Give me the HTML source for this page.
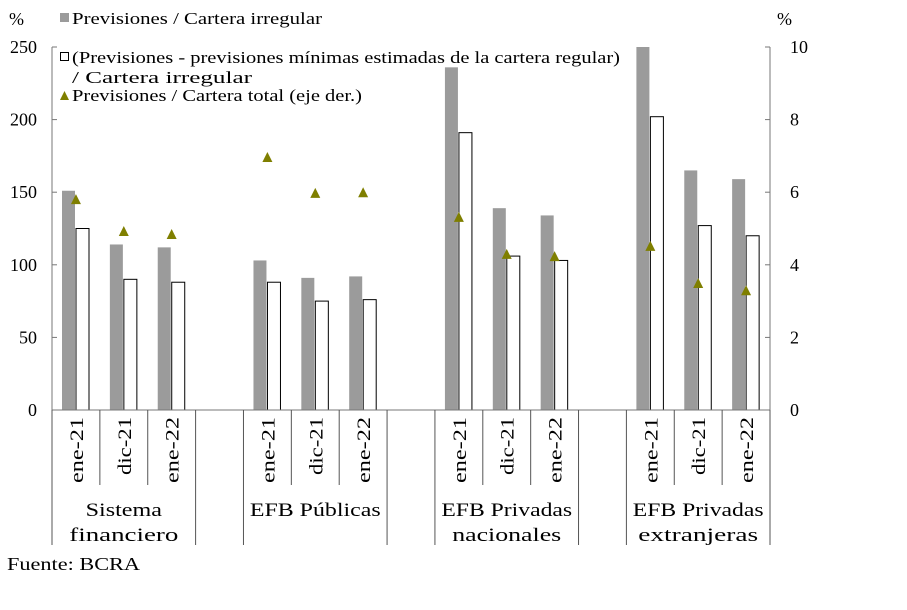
<!DOCTYPE html>
<html><head><meta charset="utf-8"><style>
body{margin:0;background:#fff;}
svg text{font-family:"Liberation Serif",serif;fill:#000;}
</style></head><body>
<svg id="c" width="907" height="605" xmlns="http://www.w3.org/2000/svg"></svg>
<script>
const groups=["Sistema|financiero","EFB Públicas","EFB Privadas|nacionales","EFB Privadas|extranjeras"];
const periods=["ene-21","dic-21","ene-22"];
const grayVals=[151,114,112,103,91,92,236,139,134,250,165,159];
const whiteVals=[125,90,88,88,75,76,191,106,103,202,127,120];
const triVals=[5.81,4.93,4.85,6.97,5.98,6.0,5.32,4.3,4.24,4.52,3.5,3.3];
const leftTicks=[0,50,100,150,200,250];
const rightTicks=[0,2,4,6,8,10];
const NS="http://www.w3.org/2000/svg";
const svg=document.getElementById('c');
const X0=52,X1=770,Y0=410,Y1=47,slot=(X1-X0)/15;
const yL=v=>Y0-(Math.min(v,250)/250)*(Y0-Y1);
const yR=v=>Y0-(v/10)*(Y0-Y1);
const slotX=i=>X0+(Math.floor(i/3)*4+(i%3))*slot;
function el(t,a,txt){const e=document.createElementNS(NS,t);for(const k in a)e.setAttribute(k,a[k]);if(txt!=null)e.textContent=txt;svg.appendChild(e);return e;}
grayVals.forEach((v,i)=>{const x=slotX(i)+10;
 const r=el('rect',{x:x,y:yL(v),width:13,height:Y0-yL(v),fill:'#9b9b9b'});
 
 });
whiteVals.forEach((v,i)=>{const x=slotX(i)+24;
 const r=el('rect',{x:x,y:yL(v),width:13,height:Y0-yL(v),fill:'#fff',stroke:'#000','stroke-width':1});
 
 });
triVals.forEach((v,i)=>{const cx=slotX(i)+slot/2,cy=yR(v);
 const p=el('polygon',{points:`${cx-5},${cy+5} ${cx+5},${cy+5} ${cx},${cy-5}`,fill:'#7f7f00'});
 
 });
const ax=el('line',{x1:X0,y1:Y1,x2:X0,y2:Y0,stroke:'#777'});

const ax2=el('line',{x1:X1,y1:Y1,x2:X1,y2:Y0,stroke:'#777'});

const ax3=el('line',{x1:X0,y1:Y0,x2:X1,y2:Y0,stroke:'#777'});

leftTicks.forEach(v=>{el('line',{x1:X0,y1:yL(v),x2:X0+5,y2:yL(v),stroke:'#777'});
 const t=el('text',{x:37,y:yL(v)+6,'text-anchor':'end','font-size':18},v);
 });
rightTicks.forEach(v=>{el('line',{x1:X1-5,y1:yR(v),x2:X1,y2:yR(v),stroke:'#777'});
 const t=el('text',{x:790,y:yR(v)+6,'font-size':18},v);
 });
el('text',{x:9,y:25,'font-size':18},'%');
el('text',{x:777,y:25,'font-size':18},'%');
for(let g=0;g<4;g++){const gx=X0+g*4*slot;
 el('line',{x1:gx,y1:Y0,x2:gx,y2:545,stroke:'#555'});
 el('line',{x1:gx+3*slot,y1:Y0,x2:gx+3*slot,y2:545,stroke:'#555'});
 for(let k=1;k<3;k++)el('line',{x1:gx+k*slot,y1:Y0,x2:gx+k*slot,y2:485,stroke:'#555'});
 for(let k=0;k<3;k++){const cx=gx+k*slot+slot/2+7;
  const len=periods[k].startsWith('dic')?58:66;
  const t=el('text',{x:cx,y:417,'font-size':19,'text-anchor':'end',textLength:len,lengthAdjust:'spacingAndGlyphs',transform:`rotate(-90 ${cx} 417)`},periods[k]);
  }
 const lines=groups[g].split('|');const mx=gx+1.5*slot;
 lines.forEach((l,j)=>{const t=el('text',{x:mx,y:516+j*25,'font-size':19,'text-anchor':'middle',textLength:l.length*10.9,lengthAdjust:'spacingAndGlyphs'},l);
  });
}
el('rect',{x:60,y:13,width:9,height:9,fill:'#9b9b9b'});
el('text',{x:72,y:24,'font-size':17,textLength:250,lengthAdjust:'spacingAndGlyphs'},'Previsiones / Cartera irregular');
el('rect',{x:60.5,y:52.5,width:8,height:8,fill:'#fff',stroke:'#000'});
el('text',{x:72,y:63,'font-size':17,textLength:548,lengthAdjust:'spacingAndGlyphs'},'(Previsiones - previsiones mínimas estimadas de la cartera regular)');
el('text',{x:72,y:83,'font-size':17,textLength:180,lengthAdjust:'spacingAndGlyphs'},'/ Cartera irregular');
el('polygon',{points:'60,100 69,100 64.5,91',fill:'#7f7f00'});
el('text',{x:72,y:101,'font-size':17,textLength:290,lengthAdjust:'spacingAndGlyphs'},'Previsiones / Cartera total (eje der.)');
const f=el('text',{x:7,y:570,'font-size':18,textLength:133,lengthAdjust:'spacingAndGlyphs'},'Fuente: BCRA');

</script>
</body></html>
